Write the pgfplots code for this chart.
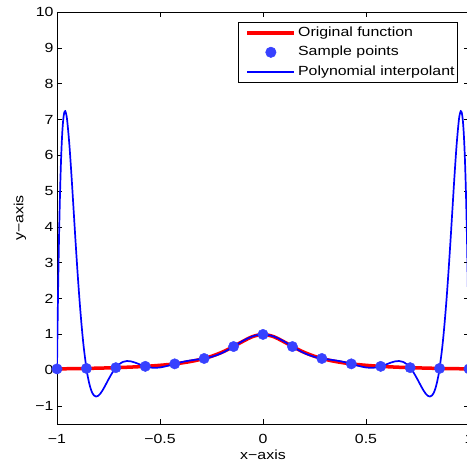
\documentclass[border=0pt]{standalone}
\usepackage{pgfplots}
\pgfplotsset{compat=1.18}
\usepackage{fontspec}
\setmainfont{Liberation Sans}[FakeStretch=1.2]
\definecolor{origred}{RGB}{255,0,0}
\definecolor{ptblue}{RGB}{55,65,255}
\definecolor{polyblue}{RGB}{0,0,255}
\pgfplotsset{
  legline/.style={legend image code/.code={\path (0bp,0bp); \draw[##1] (6bp,0bp) -- (53bp,0bp);}},
  legmark/.style={legend image code/.code={\path (0bp,0bp); \draw[mark repeat=2,mark phase=2,##1] plot coordinates {(6bp,0bp) (29.5bp,0bp) (53bp,0bp)};}},
}
\begin{document}
\begin{tikzpicture}[font=\fontsize{13.3}{15}\selectfont]
\begin{axis}[
  scale only axis, width=412bp, height=412bp,
  xmin=-1, xmax=1, ymin=-1.5, ymax=10,
  xtick={-1,-0.5,0,0.5,1},
  xticklabels={−1,−0.5,0,0.5,1},
  ytick={-1,0,1,2,3,4,5,6,7,8,9,10},
  yticklabels={−1,0,1,2,3,4,5,6,7,8,9,10},
  tick align=inside, xtick pos=both, ytick pos=both,
  major tick length=5bp,
  axis line style={line width=0.9bp},
  tick style={line width=0.6bp, black},
  xticklabel style={yshift=-7bp},
  xlabel={x−axis}, ylabel={y−axis},
  xlabel style={at={(axis description cs:0.5,0)}, anchor=center, yshift=-31bp},
  ylabel style={at={(axis description cs:0,0.5)}, anchor=center, yshift=37bp},
  legend style={at={(0.973,0.976)}, anchor=north east, draw=black, line width=0.6bp,
    inner xsep=1bp, inner ysep=1bp, row sep=0bp,
    nodes={inner xsep=2bp, inner ysep=3.2bp, text height=10bp, text depth=3bp},
    font=\fontsize{13.3}{15}\selectfont},
  legend cell align=left,
]
\addplot[origred, line width=3.5bp, smooth, legline]
  coordinates {
  (-1,0.038462) (-0.95,0.042440) (-0.9,0.047059) (-0.85,0.052459) (-0.8,0.058824)
  (-0.75,0.066390) (-0.7,0.075472) (-0.65,0.086486) (-0.6,0.1) (-0.55,0.116788)
  (-0.5,0.137931) (-0.45,0.164948) (-0.4,0.2) (-0.35,0.246154) (-0.3,0.307692)
  (-0.25,0.390244) (-0.2,0.5) (-0.15,0.64) (-0.1,0.8) (-0.05,0.941176) (0,1)
  (0.05,0.941176) (0.1,0.8) (0.15,0.64) (0.2,0.5) (0.25,0.390244) (0.3,0.307692)
  (0.35,0.246154) (0.4,0.2) (0.45,0.164948) (0.5,0.137931) (0.55,0.116788)
  (0.6,0.1) (0.65,0.086486) (0.7,0.075472) (0.75,0.066390) (0.8,0.058824)
  (0.85,0.052459) (0.9,0.047059) (0.95,0.042440) (1,0.038462)
  };
\addlegendentry{Original function}
\addplot[only marks, mark=*, mark size=5.2bp, color=ptblue, mark options={fill=ptblue, draw=ptblue}, legmark]
  coordinates {
  (-1,0.038462) (-0.857143,0.051633) (-0.714286,0.072700) (-0.571429,0.109131)
  (-0.428571,0.178832) (-0.285714,0.328859) (-0.142857,0.662162) (0,1)
  (0.142857,0.662162) (0.285714,0.328859) (0.428571,0.178832) (0.571429,0.109131)
  (0.714286,0.072700) (0.857143,0.051633) (1,0.038462)
  };
\addlegendentry{Sample points}
\addplot[polyblue, line width=1.7bp, smooth, legline]
  coordinates {
  (-1,0.0385) (-0.995,2.1117) (-0.99,3.7449) (-0.985,4.9979) (-0.98,5.9231)
  (-0.975,6.5694) (-0.97,6.9787) (-0.965,7.1887) (-0.96,7.2334) (-0.955,7.1429)
  (-0.95,6.9422) (-0.94,6.3016) (-0.93,5.4623) (-0.92,4.5343) (-0.91,3.5995)
  (-0.90,2.7129) (-0.89,1.9107) (-0.88,1.2137) (-0.87,0.6314) (-0.857143,0.0516)
  (-0.85,-0.1923) (-0.84,-0.4481) (-0.83,-0.6148) (-0.82,-0.7056) (-0.81,-0.7339)
  (-0.80,-0.7130) (-0.79,-0.6550) (-0.78,-0.5711) (-0.77,-0.4711) (-0.76,-0.3633)
  (-0.75,-0.2546) (-0.74,-0.1503) (-0.73,-0.0544) (-0.714286,0.0727) (-0.70,0.1593)
  (-0.68,0.2333) (-0.66,0.2585) (-0.64,0.2468) (-0.62,0.2120) (-0.60,0.1677)
  (-0.58,0.1249) (-0.571429,0.1091) (-0.56,0.0916) (-0.54,0.0721) (-0.52,0.0680)
  (-0.50,0.0780) (-0.48,0.0993) (-0.46,0.1281) (-0.44,0.1603) (-0.428571,0.1788)
  (-0.40,0.2218) (-0.38,0.2471) (-0.36,0.2678) (-0.34,0.2850) (-0.32,0.3002)
  (-0.30,0.3159) (-0.285714,0.3289) (-0.26,0.3589) (-0.25,0.3737) (-0.22,0.4309)
  (-0.20,0.4803) (-0.18,0.5382) (-0.16,0.6030) (-0.142857,0.6622) (-0.12,0.7427)
  (-0.10,0.8110) (-0.08,0.8733) (-0.05,0.9480) (-0.03,0.9809) (0,1)
  (0.03,0.9809) (0.05,0.9480) (0.08,0.8733) (0.10,0.8110) (0.12,0.7427)
  (0.142857,0.6622) (0.16,0.6030) (0.18,0.5382) (0.20,0.4803) (0.22,0.4309)
  (0.25,0.3737) (0.26,0.3589) (0.285714,0.3289) (0.30,0.3159) (0.32,0.3002)
  (0.34,0.2850) (0.36,0.2678) (0.38,0.2471) (0.40,0.2218) (0.428571,0.1788)
  (0.44,0.1603) (0.46,0.1281) (0.48,0.0993) (0.50,0.0780) (0.52,0.0680)
  (0.54,0.0721) (0.56,0.0916) (0.571429,0.1091) (0.58,0.1249) (0.60,0.1677)
  (0.62,0.2120) (0.64,0.2468) (0.66,0.2585) (0.68,0.2333) (0.70,0.1593)
  (0.714286,0.0727) (0.73,-0.0544) (0.74,-0.1503) (0.75,-0.2546) (0.76,-0.3633)
  (0.77,-0.4711) (0.78,-0.5711) (0.79,-0.6550) (0.80,-0.7130) (0.81,-0.7339)
  (0.82,-0.7056) (0.83,-0.6148) (0.84,-0.4481) (0.85,-0.1923) (0.857143,0.0516)
  (0.87,0.6314) (0.88,1.2137) (0.89,1.9107) (0.90,2.7129) (0.91,3.5995)
  (0.92,4.5343) (0.93,5.4623) (0.94,6.3016) (0.95,6.9422) (0.955,7.1429)
  (0.96,7.2334) (0.965,7.1887) (0.97,6.9787) (0.975,6.5694) (0.98,5.9231)
  (0.985,4.9979) (0.99,3.7449) (0.995,2.1117) (1,0.0385)
  };
\addlegendentry{Polynomial interpolant}
\end{axis}
\pgfresetboundingbox
\useasboundingbox ([shift={(-57bp,-44bp)}]current axis.south west) rectangle ([shift={(-2bp,12bp)}]current axis.north east);
\end{tikzpicture}
\end{document}
